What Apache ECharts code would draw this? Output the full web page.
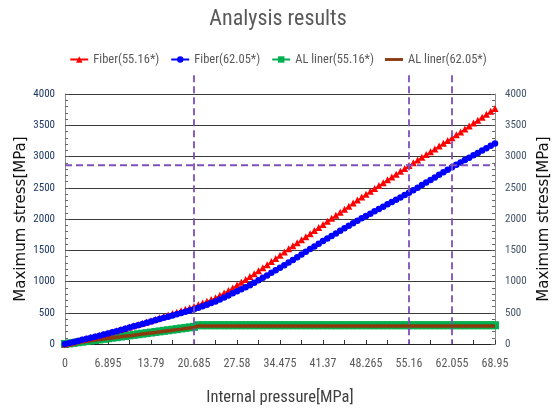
<!DOCTYPE html>
<html><head><meta charset="utf-8">
<script src="https://cdn.jsdelivr.net/npm/echarts@6/dist/echarts.min.js"></script>
<style>html,body{margin:0;padding:0;background:#fff}#c{width:556px;height:411px}</style>
</head><body><div id="c"></div>
<script>
const xStep = 0.6895;
const xTickLabels = ["0","6.895","13.79","20.685","27.58","34.475","41.37","48.265","55.16","62.055","68.95"];
const fiber5516 = [0,17,34,52,69,86,103,120,138,155,172,192,212,233,253,273,293,313,334,354,374,397,419,442,464,487,510,532,555,577,600,628,656,684,712,740,779,818,857,898,943,989,1034,1079,1126,1173,1220,1268,1319,1370,1421,1472,1524,1572,1620,1669,1717,1766,1815,1864,1913,1963,2012,2060,2109,2158,2206,2255,2303,2352,2398,2444,2489,2535,2581,2627,2673,2718,2764,2810,2855,2900,2944,2989,3033,3078,3122,3167,3211,3256,3300,3347,3394,3441,3488,3535,3582,3629,3676,3723,3770];
const fiber6205 = [0,17,34,50,67,84,101,118,134,151,168,187,206,226,245,264,283,302,322,341,360,380,399,419,438,458,477,497,516,536,555,580,605,630,655,680,713,745,778,811,843,876,908,942,981,1020,1059,1098,1139,1181,1221,1262,1303,1346,1389,1432,1476,1519,1561,1604,1647,1690,1730,1770,1811,1851,1891,1931,1971,2012,2049,2086,2123,2160,2198,2235,2272,2309,2346,2383,2420,2461,2502,2543,2584,2625,2666,2707,2748,2789,2830,2868,2906,2944,2982,3020,3058,3096,3134,3172,3210];
const liner5516 = [0,9,18,28,37,46,55,64,73,83,92,101,110,119,128,138,147,156,165,174,183,193,202,211,220,229,238,248,257,266,275,300,300,300,300,300,300,300,300,300,300,300,300,300,300,300,300,300,300,300,300,300,300,300,300,300,300,300,300,300,300,300,300,300,300,300,300,300,300,300,300,300,300,300,300,300,300,300,300,300,300,300,300,300,300,300,300,300,300,300,300,300,300,300,300,300,300,300,300,300,300];
const liner6205 = [0,9,18,26,35,44,53,62,71,79,88,97,106,115,124,132,141,150,159,168,177,185,194,203,212,221,230,238,247,256,265,288,288,288,288,288,288,288,288,288,288,288,288,288,288,288,288,288,288,288,288,288,288,288,288,288,288,288,288,288,288,288,288,288,288,288,288,288,288,288,288,288,288,288,288,288,288,288,288,288,288,288,288,288,288,288,288,288,288,288,288,288,288,288,288,288,288,288,288,288,288];
const seriesNames = ["Fiber(55.16*)","Fiber(62.05*)","AL liner(55.16*)","AL liner(62.05*)"];
const guideX = [20.685, 55.16, 62.055];
const guideY = 2860;
const guideYTop = 4300, guideYBottom = 0;

function pairs(arr){ return arr.map((v,i)=>[+(i*xStep).toFixed(4), v]); }
const FN = '"Liberation Sans Narrow","Roboto Condensed","Arial Narrow",Roboto,sans-serif';
const chart = echarts.init(document.getElementById('c'), null, {renderer:'canvas'});
const guideColor = '#7f4fbb';
const series = [
  {name:seriesNames[0], type:'line', data:pairs(fiber5516), symbol:'triangle', symbolSize:7, showAllSymbol:true,
   itemStyle:{color:'#ff0000'}, lineStyle:{color:'#ff0000', width:1}, z:3},
  {name:seriesNames[1], type:'line', data:pairs(fiber6205), symbol:'circle', symbolSize:6.5, showAllSymbol:true,
   itemStyle:{color:'#0000ff'}, lineStyle:{color:'#0000ff', width:1}, z:4},
  {name:seriesNames[2], type:'line', data:pairs(liner5516), symbol:'rect', symbolSize:8, showAllSymbol:true,
   itemStyle:{color:'#00b050'}, lineStyle:{color:'#00b050', width:6}, z:2},
  {name:seriesNames[3], type:'line', data:pairs(liner6205), symbol:'none',
   itemStyle:{color:'#8b3a0e'}, lineStyle:{color:'#8b3a0e', width:3.5}, z:3}
];
series.push({type:'custom', silent:true, clip:false, z:6, data:guideX.map(x=>[x]),
  renderItem:(params, api)=>{
    const x = api.value(0);
    const p1 = api.coord([x, guideYTop]);
    const p2 = api.coord([x, guideYBottom]);
    return {type:'line', shape:{x1:p1[0], y1:p1[1], x2:p2[0], y2:p2[1]},
      style:{stroke:guideColor, lineWidth:1.8, lineDash:[7,4]}};
  }});
series.push({type:'line', data:[[0,guideY],[68.95,guideY]], symbol:'none', silent:true,
  lineStyle:{color:guideColor, width:1.8, type:[7,4]}, z:6});

const yAxisCommon = {
  type:'value', min:0, max:4000, interval:500,
  nameLocation:'middle', name:'Maximum stress[MPa]', nameMoveOverlap:false,
  nameTextStyle:{fontFamily:'"DejaVu Sans",Verdana,sans-serif', fontSize:15, color:'#111'},
  axisLine:{show:true, lineStyle:{color:'#8c8c8c', width:1}},
  axisTick:{show:true, inside:true, length:4, lineStyle:{color:'#555'}},
  minorTick:{show:true, splitNumber:5, length:3, lineStyle:{color:'#666'}},
};
chart.setOption({
  animation:false,
  title:{text:'Analysis results', left:'center', top:3,
    textStyle:{fontFamily:FN, fontSize:22, fontWeight:'normal', color:'#595959'}},
  legend:{top:48, left:'center', itemWidth:18, itemHeight:8, itemGap:11,
    data:[seriesNames[0], seriesNames[1], seriesNames[2], {name:seriesNames[3], icon:'path://M0,0H20V3.2H0Z'}],
    textStyle:{fontFamily:FN, fontSize:12.5, color:'#595959'}},
  grid:{left:65, right:61, top:94, bottom:67, outerBoundsMode:'none', containLabel:false},
  xAxis:{type:'value', min:0, max:68.95, interval:6.895,
    name:'Internal pressure[MPa]', nameLocation:'middle', nameGap:45, nameMoveOverlap:false,
    nameTextStyle:{fontFamily:FN, fontSize:16.5, color:'#404040'},
    axisLine:{lineStyle:{color:'#222', width:1}},
    axisTick:{show:true, inside:true, length:4, lineStyle:{color:'#333'}},
    minorTick:{show:true, splitNumber:2, length:4, lineStyle:{color:'#333'}},
    splitLine:{show:false},
    axisLabel:{margin:14, fontFamily:FN, fontSize:12, color:'#595959',
      formatter:(v)=>xTickLabels[Math.round(v/6.895)] ?? ''}},
  yAxis:[
    Object.assign({}, yAxisCommon, {position:'left', nameGap:36,
      splitLine:{show:true, lineStyle:{color:'#3a3a3a', width:1}},
      axisLabel:{margin:10, fontFamily:FN, fontSize:11, color:'#1f3864', formatter:(v)=>String(v)}}),
    Object.assign({}, yAxisCommon, {position:'right', nameGap:42, nameRotate:90,
      splitLine:{show:false},
      axisLabel:{margin:10, fontFamily:FN, fontSize:11, color:'#44546a', formatter:(v)=>String(v)}})
  ],
  series: series
});
</script></body></html>
